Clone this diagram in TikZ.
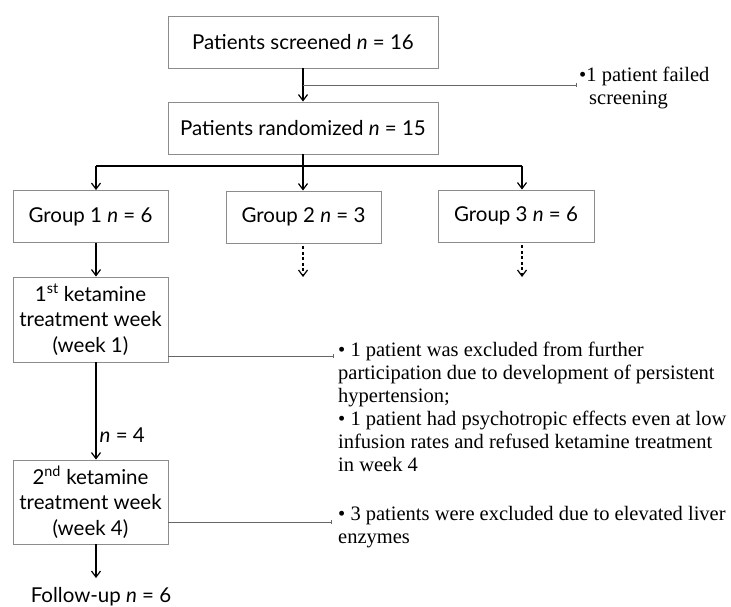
\documentclass[tikz,border=0pt]{standalone}
\usepackage{fontspec}
\setmainfont{Lato}
\newfontfamily\tms{Liberation Serif}
\usetikzlibrary{arrows.meta,calc}
\begin{document}
\begin{tikzpicture}[x=1pt,y=-1pt,
  box/.style={draw=black!45,line width=0.9pt,minimum width=155pt,minimum height=52pt,inner sep=0pt,font=\fontsize{20.5}{25.5}\selectfont,align=center},
  flow/.style={line width=1.3pt,-{Straight Barb[length=6pt,width=9pt,line width=1.2pt]}},
  dflow/.style={flow,dash pattern=on 3pt off 2.5pt},
  excl/.style={draw=black!60,line width=0.8pt,-{Bar[width=4pt,line width=0.6pt]}},
  note/.style={font=\tms\fontsize{20.5}{23}\selectfont,align=left,inner sep=0pt,anchor=north west}]
\useasboundingbox[fill=white] (0,0) rectangle (731,607);
% boxes
\node[box,minimum width=270pt] (scr) at (303,42) {Patients screened \textit{n} = 16};
\node[box,minimum width=270pt] (rand) at (303,128) {Patients randomized \textit{n} = 15};
\node[box] (g1) at (90.5,216.5) {Group 1 \textit{n} = 6};
\node[box] (g2) at (303.5,217) {Group 2 \textit{n} = 3};
\node[box,minimum width=156pt] (g3) at (516,216) {Group 3 \textit{n} = 6};
\node[box,minimum height=85pt] (k1) at (90.5,319.5) {1\textsuperscript{st} ketamine\\treatment week\\(week 1)};
\node[box,minimum height=84pt] (k2) at (90.5,502) {2\textsuperscript{nd} ketamine\\treatment week\\(week 4)};
\node[font=\fontsize{20.5}{25}\selectfont,inner sep=0pt] (fu) at (101,597) {Follow-up \textit{n} = 6};
% coordinates
\coordinate (br) at (303,166);
\coordinate (b1) at (96,166);
\coordinate (b3) at (522,166);
\coordinate (fe) at (96,578);
\coordinate (x0) at (303,85);
\coordinate (x0e) at (577,85);
\coordinate (x1e) at (334,356);
\coordinate (x2e) at (332,522);
\coordinate (d2) at (303,277);
\coordinate (d3) at (522,277);
% main flow
\draw[flow] (scr.south) -- (rand.north);
\draw[line width=1.3pt] (rand.south) -- (br);
\draw[line width=1.3pt] (b1) -- (b3);
\draw[flow] (b1) -- (b1 |- g1.north);
\draw[flow] (br) -- (br |- g2.north);
\draw[flow] (b3) -- (b3 |- g3.north);
\draw[flow] (b1 |- g1.south) -- (b1 |- k1.north);
\draw[flow] (b1 |- k1.south) -- node[anchor=west,inner sep=3pt,font=\fontsize{20.5}{25}\selectfont,pos=0.75]{\textit{n} = 4} (b1 |- k2.north);
\draw[flow] (b1 |- k2.south) -- (fe);
\draw[dflow] ($(br |- g2.south)+(0,3)$) -- (d2);
\draw[dflow] ($(b3 |- g3.south)+(0,3)$) -- (d3);
% exclusions
\draw[excl] (x0) -- (x0e);
\draw[excl] (k1.east |- x1e) -- (x1e);
\draw[excl] (k2.east |- x2e) -- (x2e);
\node[note] (t0) at (579,67) {\textbullet 1 patient failed\\\hspace*{10pt}screening};
\node[note] (t1) at (338,342) {\textbullet\ 1 patient was excluded from further\\participation due to development of persistent\\hypertension;\\\textbullet\ 1 patient had psychotropic effects even at low\\infusion rates and refused ketamine treatment\\in week 4};
\node[note] (t2) at (338,506) {\textbullet\ 3 patients were excluded due to elevated liver\\enzymes};
\end{tikzpicture}
\end{document}
